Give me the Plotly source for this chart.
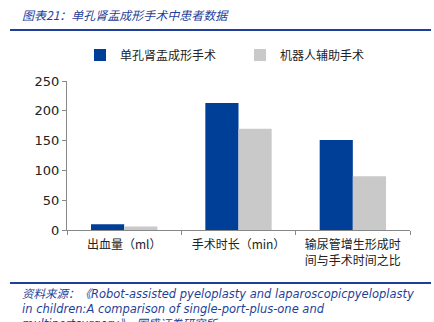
import plotly.graph_objects as go

categories = ["出血量（ml）", "手术时长（min）", "输尿管增生形成时<br>间与手术时间之比"]
single_port = [9.5, 213, 151]
robot = [6, 170, 90]
series_names = ["单孔肾盂成形手术", "机器人辅助手术"]
y_ticks = [0, 50, 100, 150, 200, 250]

BLUE = "#003F97"
GRAY = "#C9C9C9"
TXT_BLUE = "#1F3F9A"

W, H = 434, 322
L, R, T, B = 67, 24, 81, 92
PW, PH = W - L - R, H - T - B

def px(x):
    return (x - L) / PW

def py(y):
    return (H - B - y) / PH

fig = go.Figure()
fig.add_trace(go.Bar(x=categories, y=single_port, name=series_names[0],
                     marker=dict(color=BLUE, line=dict(width=0))))
fig.add_trace(go.Bar(x=categories, y=robot, name=series_names[1],
                     marker=dict(color=GRAY, line=dict(width=0))))

fig.update_layout(
    width=W, height=H,
    margin=dict(l=L, r=R, t=T, b=B, pad=0),
    paper_bgcolor="white", plot_bgcolor="white",
    barmode="group", bargap=0.42, bargroupgap=0,
    font=dict(family="DejaVu Sans, Noto Sans CJK SC", size=12, color="#222"),
    legend=dict(orientation="h", x=px(80), y=py(55), xanchor="left", yanchor="middle",
                font=dict(family="Noto Sans CJK SC", size=12, color="#222"),
                entrywidth=115, entrywidthmode="pixels", itemwidth=30,
                bgcolor="rgba(0,0,0,0)", traceorder="normal"),
    showlegend=True,
)
fig.update_xaxes(showline=True, linecolor="#888", linewidth=1, ticks="outside",
                 tickson="boundaries", ticklen=4, tickcolor="#888",
                 ticklabelstandoff=4,
                 tickfont=dict(family="Noto Sans CJK SC", size=12, color="#222"),
                 showgrid=False)
fig.update_yaxes(range=[0, 250], tickvals=y_ticks, showline=True, linecolor="#888",
                 linewidth=1, ticks="outside", ticklen=4, tickcolor="#888",
                 tickfont=dict(family="DejaVu Sans", size=13, color="#222"),
                 showgrid=False, zeroline=False)

# header and footer
fig.add_annotation(text="<i>图表21：单孔肾盂成形手术中患者数据</i>", xref="paper", yref="paper",
                   x=px(20), y=py(14), xanchor="left", yanchor="middle", showarrow=False,
                   font=dict(family="Noto Sans CJK SC", size=12, color=TXT_BLUE))
fig.add_shape(type="line", xref="paper", yref="paper", x0=px(10), x1=px(431),
              y0=py(30), y1=py(30), line=dict(color=TXT_BLUE, width=2))
fig.add_shape(type="line", xref="paper", yref="paper", x0=px(10), x1=px(431),
              y0=py(283), y1=py(283), line=dict(color=TXT_BLUE, width=2))
fig.add_annotation(
    text="<i>资料来源：《Robot-assisted pyeloplasty and laparoscopicpyeloplasty<br>"
         "in children:A comparison of single-port-plus-one and<br>"
         "multiportsurgery》，国盛证券研究所</i>",
    xref="paper", yref="paper", x=px(20), y=py(285), xanchor="left", yanchor="top",
    align="left", showarrow=False,
    font=dict(family="DejaVu Sans, Noto Sans CJK SC", size=11.5, color=TXT_BLUE))

fig.write_html("out.html")
